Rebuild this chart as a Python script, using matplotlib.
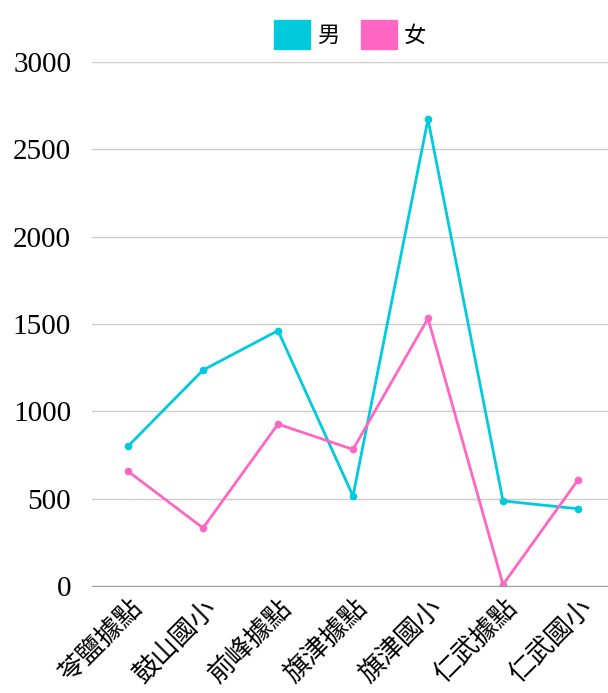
import matplotlib.pyplot as plt
from matplotlib.patches import Patch

# data
sites = ["苓鹽據點", "鼓山國小", "前峰據點", "旗津據點", "旗津國小", "仁武據點", "仁武國小"]
male = [800, 1236, 1462, 515, 2672, 487, 442]
female = [657, 332, 927, 782, 1532, 8, 607]
y_ticks = [0, 500, 1000, 1500, 2000, 2500, 3000]

MALE_COLOR = "#00CADB"
FEMALE_COLOR = "#FF66C4"

cjk = ["Noto Sans CJK TC", "DejaVu Sans"]

fig = plt.figure(figsize=(6.08, 6.93), dpi=100)
axes = fig.add_axes([92 / 608, 107 / 693, 516 / 608, 524 / 693])

x = list(range(len(sites)))
axes.plot(x, male, color=MALE_COLOR, linewidth=2.0, marker="o", markersize=4.5)
axes.plot(x, female, color=FEMALE_COLOR, linewidth=2.0, marker="o", markersize=4.5)

axes.set_xlim(-0.48, 6.4)
axes.set_ylim(0, 3000)
axes.set_yticks(y_ticks)
axes.set_yticklabels([str(v) for v in y_ticks], family="Liberation Serif", fontsize=21)
axes.tick_params(axis="y", length=0, pad=15)
axes.grid(axis="y", color="#cccccc", linewidth=1)
axes.set_axisbelow(True)

axes.set_xticks(x)
axes.set_xticklabels(sites, family=cjk, fontsize=19, rotation=45, ha="right", rotation_mode="anchor")
axes.tick_params(axis="x", length=0, pad=6)
for label in axes.get_xticklabels():
    label.set_x(label.get_position()[0])

for side in ["top", "right", "left"]:
    axes.spines[side].set_visible(False)
axes.spines["bottom"].set_color("#999999")

handles = [Patch(color=MALE_COLOR, label="男"), Patch(color=FEMALE_COLOR, label="女")]
fig.legend(
    handles=handles,
    loc="upper center",
    bbox_to_anchor=(350 / 608, 1.0),
    ncol=2,
    frameon=False,
    prop={"family": cjk, "size": 16},
    handlelength=1.6,
    handleheight=1.6,
    handletextpad=0.3,
    columnspacing=1.0,
)

fig.savefig("out.png", dpi=100)
